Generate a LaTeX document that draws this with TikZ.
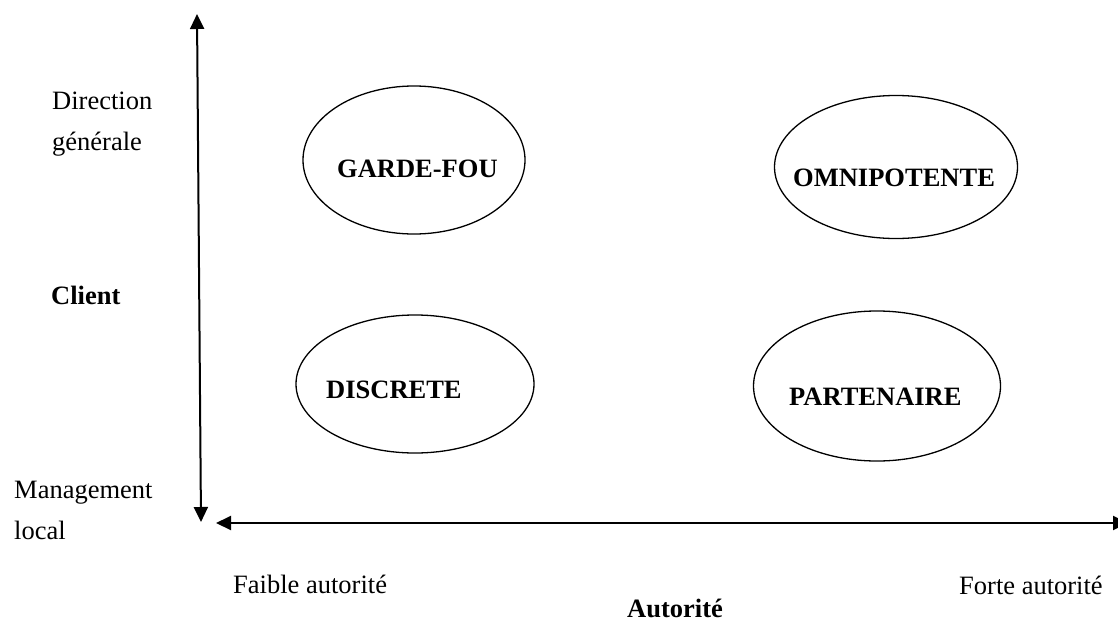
\documentclass[tikz,border=0pt]{standalone}
\usepackage{fontspec}
\setmainfont{Liberation Serif}
\usetikzlibrary{arrows.meta,shapes.geometric}

\begin{document}
\begin{tikzpicture}[x=1pt,y=-1pt,
    axe/.style={line width=2pt,{Triangle[length=15pt,width=14pt]}-{Triangle[length=15pt,width=14pt]}},
    bulle/.style={draw,ellipse,line width=1.3pt,inner sep=0pt},
    lab/.style={font=\fontsize{26.5}{41}\selectfont,inner sep=0pt,align=left},
    titre/.style={font=\bfseries\fontsize{26.5}{30}\selectfont,inner sep=0pt}]
  \useasboundingbox (0,0) rectangle (1118,621);
  \clip (0,0) rectangle (1118,621);

  % les deux axes
  \coordinate (haut) at (197,14);
  \coordinate (bas) at (201,522);
  \coordinate (gauche) at (216,523);
  \coordinate (droite) at (1128,523);
  \draw[axe] (bas) -- (haut);
  \draw[axe] (gauche) -- (droite);

  % les quatre postures
  \node[bulle,minimum width=222pt,minimum height=148pt] (garde) at (414,160) {};
  \node[bulle,minimum width=243pt,minimum height=143pt] (omni) at (896,167) {};
  \node[bulle,minimum width=238pt,minimum height=138pt] (discrete) at (415,384) {};
  \node[bulle,minimum width=247pt,minimum height=150pt] (partenaire) at (877,386) {};

  \node[titre,anchor=base west] (gardetxt) at (337,177) {GARDE-FOU};
  \node[titre,anchor=base west] (omnitxt) at (793,186) {OMNIPOTENTE};
  \node[titre,anchor=base west] (discretetxt) at (326,398) {DISCRETE};
  \node[titre,anchor=base west] (partenairetxt) at (789,405) {PARTENAIRE};

  % axe vertical
  \node[lab,anchor=base west] (direction) at (52,150) {Direction\\générale};
  \node[titre,anchor=base west] (client) at (51,304) {Client};
  \node[lab,anchor=base west] (management) at (14,539) {Management\\local};

  % axe horizontal
  \node[lab,anchor=base west] (faible) at (233,593) {Faible autorité};
  \node[lab,anchor=base west] (forte) at (959,594) {Forte autorité};
  \node[titre,anchor=base west] (autorite) at (627,617) {Autorité};
\end{tikzpicture}
\end{document}
